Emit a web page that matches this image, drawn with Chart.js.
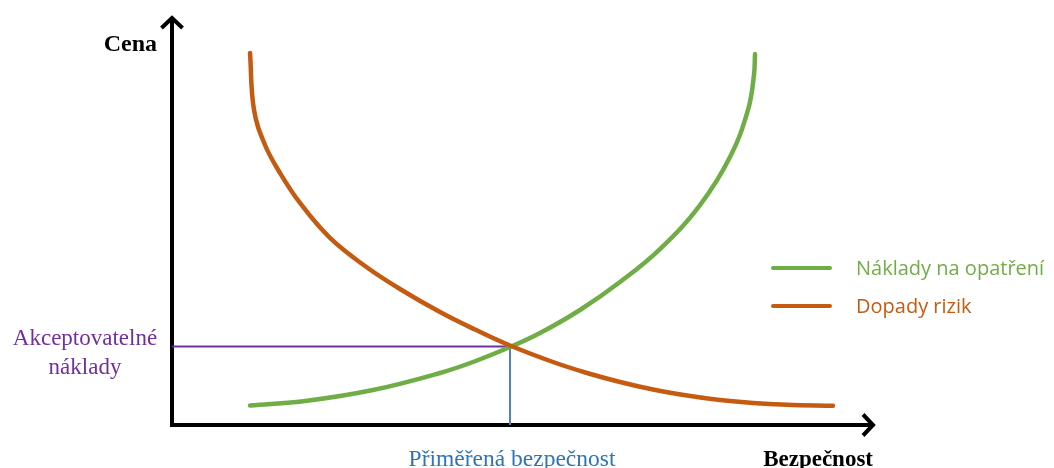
<!DOCTYPE html>
<html>
<head>
<meta charset="utf-8">
<script src="https://cdn.jsdelivr.net/npm/chart.js@4/dist/chart.umd.min.js"></script>
<style>
html,body{margin:0;padding:0;background:#fff;}
canvas{display:block;}
</style>
</head>
<body>
<canvas id="c" width="1054" height="468"></canvas>
<script>
// ---- data (abstract units: security 0..100, cost 0..100) ----
const seriesLabels = ["Náklady na opatření", "Dopady rizik"];
const costX = [11.13, 19.26, 28.67, 38.23, 42.94, 48.22, 52.50, 58.20, 63.91, 69.61, 75.32, 79.60, 82.17, 83.02, 83.17];
const costY = [4.79, 5.97, 8.60, 12.78, 15.48, 19.16, 22.60, 28.26, 35.14, 43.24, 54.05, 65.85, 77.40, 86.00, 91.15];
const riskX = [11.13, 11.70, 13.27, 15.41, 18.26, 22.54, 27.53, 32.52, 38.23, 43.22, 48.22, 54.35, 59.20, 63.91, 68.62, 73.47, 78.17, 82.88, 87.73, 94.29];
const riskY = [91.40, 77.40, 68.80, 61.92, 54.55, 45.95, 39.07, 33.42, 27.76, 23.46, 19.53, 15.48, 12.78, 10.57, 8.72, 7.25, 6.14, 5.41, 4.99, 4.74];
const optimumX = [48.22];
const optimumY = [19.29];
const axisTitles = { y: "Cena", x: "Bezpečnost" };
const optimumLabels = { cost: ["Akceptovatelné", "náklady"], security: "Přiměřená bezpečnost" };

const GREEN = "#70AD47", ORANGE = "#C55A11", PURPLE = "#7030A0", BLUE = "#4F81BD", BLUE_TXT = "#2E75B6";

const pts = (xs, ys) => xs.map((x, i) => ({ x, y: ys[i] }));

const overlay = {
  id: "overlay",
  beforeDatasetsDraw(chart) {
    const { ctx, scales: { x, y } } = chart;
    const x0 = x.getPixelForValue(0), y0 = y.getPixelForValue(0);
    const xEnd = x.getPixelForValue(100), yEnd = y.getPixelForValue(100);
    ctx.save();
    ctx.strokeStyle = "#000";
    ctx.lineWidth = 4;
    ctx.lineJoin = "miter";
    ctx.lineCap = "butt";
    ctx.beginPath();
    ctx.moveTo(x0, y0 + 2);
    ctx.lineTo(x0, yEnd + 1);
    ctx.moveTo(x0 - 2, y0);
    ctx.lineTo(xEnd - 1, y0);
    ctx.stroke();
    ctx.beginPath();
    ctx.moveTo(x0 - 10.5, yEnd + 10);
    ctx.lineTo(x0, yEnd);
    ctx.lineTo(x0 + 10.5, yEnd + 10);
    ctx.moveTo(xEnd - 10, y0 - 10.5);
    ctx.lineTo(xEnd, y0);
    ctx.lineTo(xEnd - 10, y0 + 10.5);
    ctx.stroke();
    ctx.restore();
  },
  afterDraw(chart) {
    const { ctx, scales: { x, y } } = chart;
    const x0 = x.getPixelForValue(0), y0 = y.getPixelForValue(0);
    const xEnd = x.getPixelForValue(100);
    ctx.save();
    ctx.fillStyle = "#000";
    ctx.font = "bold 24px 'Liberation Serif', 'Times New Roman', serif";
    ctx.textAlign = "right";
    ctx.textBaseline = "alphabetic";
    ctx.fillText(axisTitles.y, x0 - 15, 51);
    ctx.font = "bold 23px 'Liberation Serif', 'Times New Roman', serif";
    ctx.fillText(axisTitles.x, xEnd, y0 + 41);
    const oy = y.getPixelForValue(optimumY[0]);
    const ox = x.getPixelForValue(optimumX[0]);
    ctx.textAlign = "center";
    ctx.fillStyle = PURPLE;
    ctx.font = "23px 'Liberation Serif', 'Times New Roman', serif";
    ctx.fillText(optimumLabels.cost[0], 85, oy - 1);
    ctx.fillText(optimumLabels.cost[1], 85, oy + 28);
    ctx.fillStyle = BLUE_TXT;
    ctx.font = "23.5px 'Liberation Serif', 'Times New Roman', serif";
    ctx.fillText(optimumLabels.security, ox + 2, y0 + 41);
    const items = chart.data.datasets.filter(d => d.label);
    ctx.textAlign = "left";
    ctx.font = "20px 'Open Sans', Lato, sans-serif";
    ctx.lineCap = "round";
    items.forEach((d, i) => {
      const ly = 268 + i * 38;
      ctx.strokeStyle = d.borderColor;
      ctx.lineWidth = 4;
      ctx.beginPath();
      ctx.moveTo(773, ly);
      ctx.lineTo(830, ly);
      ctx.stroke();
      ctx.fillStyle = d.borderColor;
      ctx.fillText(d.label, 856, ly + 7);
    });
    ctx.restore();
  }
};

new Chart(document.getElementById("c"), {
  type: "line",
  data: {
    datasets: [
      { label: seriesLabels[0], data: pts(costX, costY), borderColor: GREEN, borderWidth: 4.5,
        tension: 0.4, pointRadius: 0, borderCapStyle: "round", order: 1 },
      { label: seriesLabels[1], data: pts(riskX, riskY), borderColor: ORANGE, borderWidth: 4.5,
        tension: 0.4, pointRadius: 0, borderCapStyle: "round", order: 0 },
      { label: "", data: [{ x: 0, y: optimumY[0] }, { x: optimumX[0], y: optimumY[0] }],
        borderColor: PURPLE, borderWidth: 2, pointRadius: 0, order: 3 },
      { label: "", data: [{ x: optimumX[0], y: optimumY[0] }, { x: optimumX[0], y: 0 }],
        borderColor: BLUE, borderWidth: 2, pointRadius: 0, order: 2 }
    ]
  },
  options: {
    responsive: false,
    devicePixelRatio: 1,
    animation: false,
    layout: { padding: { left: 172, right: 181, top: 18, bottom: 43 } },
    scales: {
      x: { type: "linear", min: 0, max: 100, display: false },
      y: { type: "linear", min: 0, max: 100, display: false }
    },
    plugins: { legend: { display: false }, tooltip: { enabled: false } },
    events: []
  },
  plugins: [overlay]
});
</script>
</body>
</html>
